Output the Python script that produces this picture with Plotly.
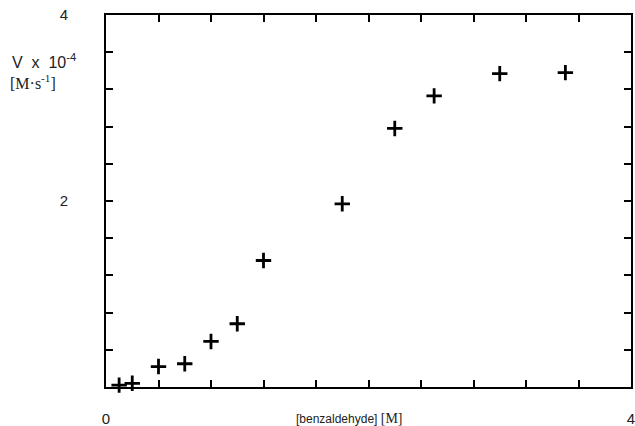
import plotly.graph_objects as go

# data
conc = [0.10, 0.20, 0.40, 0.60, 0.80, 1.00, 1.20, 1.80, 2.20, 2.50, 3.00, 3.50]
rate = [0.02, 0.04, 0.22, 0.25, 0.49, 0.68, 1.36, 1.97, 2.78, 3.13, 3.37, 3.38]

tick_vals = [round(i * 0.4, 1) for i in range(11)]
x_tick_text = ["0"] + [""] * 9 + ["4"]
y_tick_text = ["" if v not in (2.0, 4.0) else str(int(v)) for v in tick_vals]

FONT = "Liberation Sans, Arial, sans-serif"
SERIF = "Liberation Serif, Times New Roman, serif"

fig = go.Figure()
fig.add_trace(go.Scatter(
    x=conc, y=rate, mode="markers",
    marker=dict(symbol="cross-thin", size=11, color="black",
                line=dict(color="black", width=2.8)),
    cliponaxis=False, showlegend=False,
))

axis_common = dict(
    showgrid=False, zeroline=False, automargin=False,
    showline=True, linecolor="black", linewidth=2, mirror="ticks",
    ticks="inside", ticklen=7, tickwidth=2, tickcolor="black",
    tickmode="array", tickvals=tick_vals, ticklabeloverflow="allow",
    tickfont=dict(family=FONT, size=15, color="#222"),
)

fig.update_layout(
    width=635, height=426,
    margin=dict(l=106, r=4, t=15, b=39),
    paper_bgcolor="white", plot_bgcolor="white",
    xaxis=dict(range=[0, 4], ticktext=x_tick_text, ticklabelstandoff=17, **axis_common),
    yaxis=dict(range=[0, 4], ticktext=y_tick_text, ticklabelstandoff=33, **axis_common),
    annotations=[
        dict(text="V&nbsp; x&nbsp; 10<sup>-4</sup>", xref="paper", yref="paper",
             x=(10 - 106) / 525, y=(387 - 61) / 372, xanchor="left", yanchor="middle",
             showarrow=False, font=dict(family=FONT, size=16, color="#222")),
        dict(text="[M·s<sup>-1</sup>]", xref="paper", yref="paper",
             x=(8 - 106) / 525, y=(387 - 82) / 372, xanchor="left", yanchor="middle",
             showarrow=False, font=dict(family=SERIF, size=16, color="#222")),
        dict(text="[benzaldehyde] <span style=\"font-family:'Liberation Serif';font-size:14px\">[M]</span>",
             xref="paper", yref="paper",
             x=(294 - 106) / 525, y=(387 - 418) / 372, xanchor="left", yanchor="middle",
             showarrow=False, font=dict(family=FONT, size=12, color="#222")),
    ],
)

fig.write_html("out.html")
